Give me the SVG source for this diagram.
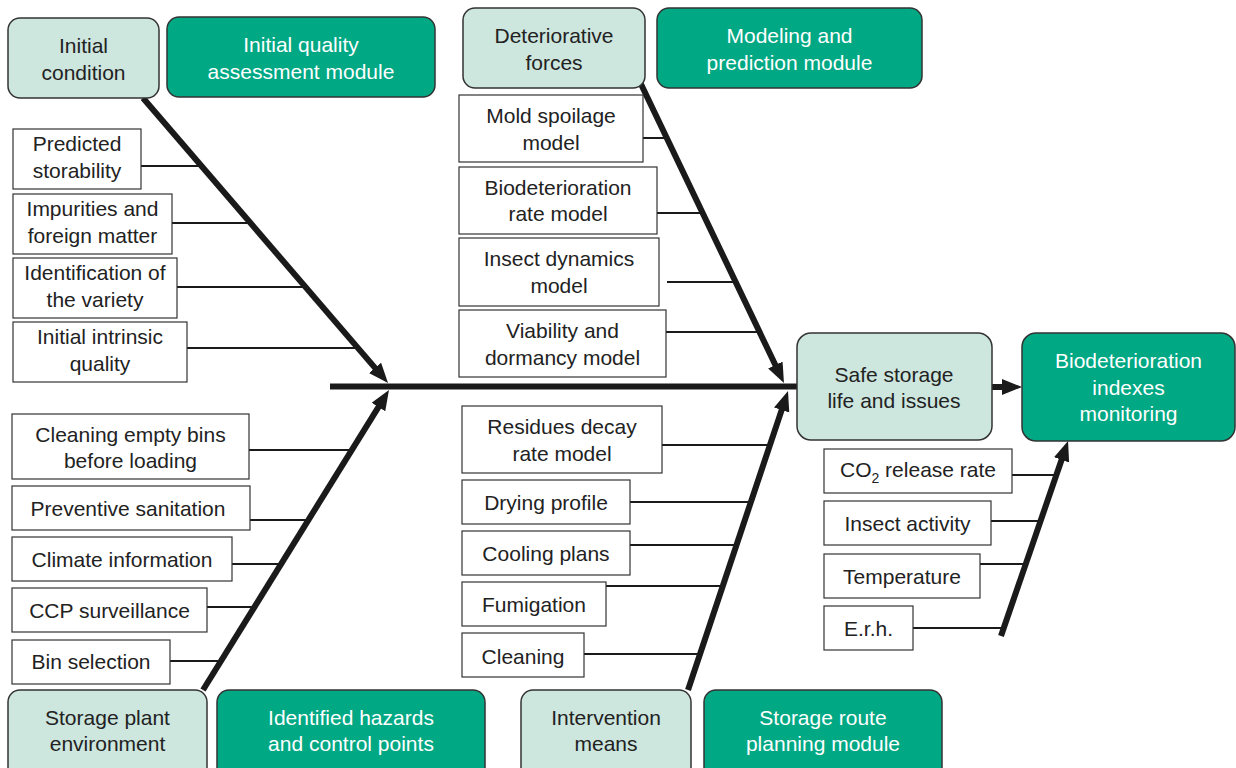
<svg xmlns="http://www.w3.org/2000/svg" width="1236" height="768" viewBox="0 0 1236 768">
  <defs>
    <marker id="head" markerUnits="userSpaceOnUse" markerWidth="22" markerHeight="18" refX="2" refY="8" orient="auto">
      <path d="M0,0 L20,8 L0,16 Z" fill="#1a1a1a"/>
    </marker>
    <style>
      text { font-family: "Liberation Sans", Arial, sans-serif; font-size: 21px; text-anchor: middle; fill: #222; }
      .cat rect { fill: #cde6de; stroke: #333; stroke-width: 1.5; }
      .mod rect { fill: #00a884; stroke: #333; stroke-width: 1.5; }
      .mod text { fill: #fff; }
      .item rect { fill: #fff; stroke: #333; stroke-width: 1.2; }
      .bone { stroke: #1a1a1a; stroke-width: 6; fill: none; }
      .rib { stroke: #1a1a1a; stroke-width: 2; fill: none; }
    </style>
  </defs>
  <rect width="1236" height="768" fill="#fff"/>

  <!-- connectors: spine, branches and ribs -->
  <g id="connectors">
    <line class="bone" x1="330" y1="386.5" x2="797" y2="386.5"/>
    <line class="bone" x1="143" y1="98" x2="376.3" y2="369.4" marker-end="url(#head)"/>
    <line class="bone" x1="203" y1="690" x2="379.5" y2="405.3" marker-end="url(#head)"/>
    <line class="bone" x1="640" y1="82" x2="776.2" y2="366.8" marker-end="url(#head)"/>
    <line class="bone" x1="688" y1="690" x2="782.3" y2="408.1" marker-end="url(#head)"/>
    <line class="bone" x1="992" y1="387" x2="1004" y2="387" marker-end="url(#head)"/>
    <line class="bone" x1="1001" y1="636" x2="1062.2" y2="458" marker-end="url(#head)"/>

    <line class="rib" x1="141" y1="166" x2="201" y2="166"/>
    <line class="rib" x1="172" y1="223" x2="250" y2="223"/>
    <line class="rib" x1="177" y1="287" x2="304" y2="287"/>
    <line class="rib" x1="187" y1="348" x2="356" y2="348"/>

    <line class="rib" x1="249" y1="450" x2="353" y2="450"/>
    <line class="rib" x1="250" y1="520" x2="309" y2="520"/>
    <line class="rib" x1="232" y1="564" x2="281" y2="564"/>
    <line class="rib" x1="207" y1="607" x2="255" y2="607"/>
    <line class="rib" x1="170" y1="661" x2="221" y2="661"/>

    <line class="rib" x1="643" y1="138" x2="667" y2="138"/>
    <line class="rib" x1="657" y1="213" x2="702" y2="213"/>
    <line class="rib" x1="667" y1="282" x2="735" y2="282"/>
    <line class="rib" x1="666" y1="332" x2="759" y2="332"/>

    <line class="rib" x1="662" y1="445" x2="767" y2="445"/>
    <line class="rib" x1="630" y1="502" x2="749" y2="502"/>
    <line class="rib" x1="630" y1="545" x2="735" y2="545"/>
    <line class="rib" x1="606" y1="586" x2="722" y2="586"/>
    <line class="rib" x1="584" y1="654" x2="700" y2="654"/>

    <line class="rib" x1="1012" y1="475" x2="1054" y2="475"/>
    <line class="rib" x1="991" y1="521" x2="1039" y2="521"/>
    <line class="rib" x1="980" y1="564" x2="1025" y2="564"/>
    <line class="rib" x1="913" y1="628" x2="1004" y2="628"/>
  </g>

  <!-- category boxes -->
  <g id="initial-condition" class="cat">
    <rect x="8" y="18" width="151" height="80" rx="12"/>
    <text x="83.5" y="53">Initial</text>
    <text x="83.5" y="80">condition</text>
  </g>
  <g id="deteriorative-forces" class="cat">
    <rect x="463" y="8" width="182" height="80" rx="12"/>
    <text x="554" y="43">Deteriorative</text>
    <text x="554" y="70">forces</text>
  </g>
  <g id="safe-storage" class="cat">
    <rect x="797" y="333" width="195" height="107" rx="14"/>
    <text x="894" y="382">Safe storage</text>
    <text x="894" y="408">life and issues</text>
  </g>
  <g id="storage-plant" class="cat">
    <rect x="8" y="690" width="199" height="92" rx="12"/>
    <text x="107.5" y="725">Storage plant</text>
    <text x="107.5" y="751">environment</text>
  </g>
  <g id="intervention-means" class="cat">
    <rect x="521" y="690" width="170" height="92" rx="12"/>
    <text x="606" y="725">Intervention</text>
    <text x="606" y="751">means</text>
  </g>

  <!-- module boxes -->
  <g id="quality-module" class="mod">
    <rect x="167" y="17" width="268" height="80" rx="12"/>
    <text x="301" y="52">Initial quality</text>
    <text x="301" y="79">assessment module</text>
  </g>
  <g id="modeling-module" class="mod">
    <rect x="657" y="8" width="265" height="80" rx="12"/>
    <text x="789.5" y="43">Modeling and</text>
    <text x="789.5" y="70">prediction module</text>
  </g>
  <g id="indexes-module" class="mod">
    <rect x="1022" y="333" width="213" height="108" rx="14"/>
    <text x="1128.5" y="368">Biodeterioration</text>
    <text x="1128.5" y="395">indexes</text>
    <text x="1128.5" y="421">monitoring</text>
  </g>
  <g id="hazards-module" class="mod">
    <rect x="217" y="690" width="268" height="92" rx="12"/>
    <text x="351" y="725">Identified hazards</text>
    <text x="351" y="751">and control points</text>
  </g>
  <g id="route-module" class="mod">
    <rect x="704" y="690" width="238" height="92" rx="12"/>
    <text x="823" y="725">Storage route</text>
    <text x="823" y="751">planning module</text>
  </g>

  <!-- initial condition items -->
  <g id="predicted-storability" class="item">
    <rect x="13" y="129" width="128" height="60"/>
    <text x="77" y="151">Predicted</text>
    <text x="77" y="178">storability</text>
  </g>
  <g id="impurities" class="item">
    <rect x="13" y="194" width="159" height="60"/>
    <text x="92.5" y="216">Impurities and</text>
    <text x="92.5" y="243">foreign matter</text>
  </g>
  <g id="variety" class="item">
    <rect x="13" y="258" width="164" height="60"/>
    <text x="95" y="280">Identification of</text>
    <text x="95" y="307">the variety</text>
  </g>
  <g id="intrinsic-quality" class="item">
    <rect x="13" y="322" width="174" height="60"/>
    <text x="100" y="344">Initial intrinsic</text>
    <text x="100" y="371">quality</text>
  </g>

  <!-- storage plant items -->
  <g id="cleaning-bins" class="item">
    <rect x="12" y="414" width="237" height="65"/>
    <text x="130.5" y="442">Cleaning empty bins</text>
    <text x="130.5" y="468">before loading</text>
  </g>
  <g id="preventive-sanitation" class="item">
    <rect x="12" y="486" width="238" height="44"/>
    <text x="128" y="516">Preventive sanitation</text>
  </g>
  <g id="climate-information" class="item">
    <rect x="12" y="537" width="220" height="44"/>
    <text x="122" y="567">Climate information</text>
  </g>
  <g id="ccp-surveillance" class="item">
    <rect x="12" y="588" width="195" height="44"/>
    <text x="109.5" y="618">CCP surveillance</text>
  </g>
  <g id="bin-selection" class="item">
    <rect x="12" y="640" width="158" height="44"/>
    <text x="91" y="669">Bin selection</text>
  </g>

  <!-- deteriorative forces items -->
  <g id="mold-model" class="item">
    <rect x="459" y="95" width="184" height="67"/>
    <text x="551" y="123">Mold spoilage</text>
    <text x="551" y="150">model</text>
  </g>
  <g id="biodeterioration-model" class="item">
    <rect x="459" y="167" width="198" height="67"/>
    <text x="558" y="195">Biodeterioration</text>
    <text x="558" y="221">rate model</text>
  </g>
  <g id="insect-model" class="item">
    <rect x="459" y="238" width="200" height="68"/>
    <text x="559" y="266">Insect dynamics</text>
    <text x="559" y="293">model</text>
  </g>
  <g id="viability-model" class="item">
    <rect x="459" y="310" width="207" height="67"/>
    <text x="562.5" y="338">Viability and</text>
    <text x="562.5" y="365">dormancy model</text>
  </g>

  <!-- intervention items -->
  <g id="residues-model" class="item">
    <rect x="462" y="406" width="200" height="67"/>
    <text x="562" y="434">Residues decay</text>
    <text x="562" y="461">rate model</text>
  </g>
  <g id="drying-profile" class="item">
    <rect x="462" y="480" width="168" height="44"/>
    <text x="546" y="510">Drying profile</text>
  </g>
  <g id="cooling-plans" class="item">
    <rect x="462" y="531" width="168" height="44"/>
    <text x="546" y="561">Cooling plans</text>
  </g>
  <g id="fumigation" class="item">
    <rect x="462" y="582" width="144" height="44"/>
    <text x="534" y="612">Fumigation</text>
  </g>
  <g id="cleaning" class="item">
    <rect x="462" y="633" width="122" height="44"/>
    <text x="523" y="664">Cleaning</text>
  </g>

  <!-- monitoring items -->
  <g id="co2-rate" class="item">
    <rect x="824" y="449" width="188" height="44"/>
    <text x="918" y="477">CO<tspan font-size="14" dy="6">2</tspan><tspan dy="-6"> release rate</tspan></text>
  </g>
  <g id="insect-activity" class="item">
    <rect x="824" y="501" width="167" height="44"/>
    <text x="907.5" y="531">Insect activity</text>
  </g>
  <g id="temperature" class="item">
    <rect x="824" y="554" width="156" height="44"/>
    <text x="902" y="584">Temperature</text>
  </g>
  <g id="erh" class="item">
    <rect x="824" y="606" width="89" height="44"/>
    <text x="868.5" y="636">E.r.h.</text>
  </g>
</svg>
